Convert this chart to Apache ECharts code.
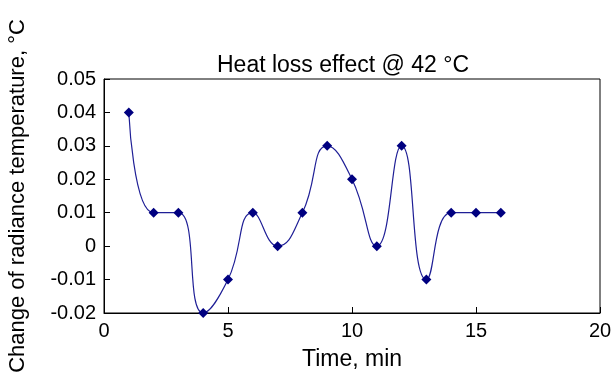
<!DOCTYPE html>
<html>
<head>
<meta charset="utf-8">
<script src="https://cdn.jsdelivr.net/npm/echarts@6/dist/echarts.min.js"></script>
<style>
  html, body { margin: 0; padding: 0; background: #fff; }
  #chart { width: 612px; height: 390px; }
</style>
</head>
<body>
<div id="chart"></div>
<script>
const timeMin = [1, 2, 3, 4, 5, 6, 7, 8, 9, 10, 11, 12, 13, 14, 15, 16]
const tempChange = [0.04, 0.01, 0.01, -0.02, -0.01, 0.01, 0, 0.01, 0.03, 0.02, 0, 0.03, -0.01, 0.01, 0.01, 0.01]

const font = 'Liberation Sans, Arial, sans-serif'
const chart = echarts.init(document.getElementById('chart'))

chart.setOption({
  animation: false,
  title: {
    text: 'Heat loss effect @ 42 °C',
    left: 338,
    textAlign: 'center',
    top: 49,
    textStyle: { fontFamily: font, fontSize: 23, fontWeight: 'normal', color: '#000' },
  },
  grid: {
    left: 104,
    top: 79,
    right: 12,
    bottom: 77,
    outerBoundsMode: 'none',
    containLabel: false,
    show: true,
    borderColor: '#000',
    borderWidth: 1,
  },
  xAxis: {
    type: 'value',
    min: 0,
    max: 20,
    interval: 5,
    name: 'Time, min',
    nameLocation: 'middle',
    nameGap: 35,
    nameTextStyle: { fontFamily: font, fontSize: 23, color: '#000' },
    axisLine: { onZero: false, lineStyle: { color: '#000' } },
    axisTick: { inside: true, length: 6, lineStyle: { color: '#000' } },
    axisLabel: { fontFamily: font, fontSize: 20, color: '#000', margin: 8 },
    splitLine: { show: false },
  },
  yAxis: {
    type: 'value',
    min: -0.02,
    max: 0.05,
    interval: 0.01,
    name: 'Change of radiance temperature, °C',
    nameLocation: 'middle',
    nameGap: 75,
    nameTextStyle: { fontFamily: font, fontSize: 22, color: '#000' },
    axisLine: { show: true, onZero: false, lineStyle: { color: '#000' } },
    axisTick: { show: true, inside: true, length: 6, lineStyle: { color: '#000' } },
    axisLabel: {
      fontFamily: font,
      fontSize: 20,
      color: '#000',
      margin: 8,
      formatter: v => (Math.abs(v) < 1e-9 ? '0' : v.toFixed(2)),
    },
    splitLine: { show: false },
  },
  series: [
    {
      type: 'line',
      data: timeMin.map((t, i) => [t, tempChange[i]]),
      smooth: 0.5,
      symbol: 'diamond',
      symbolSize: 10,
      itemStyle: { color: '#000080' },
      lineStyle: { color: '#1f1f96', width: 1.2 },
    },
  ],
})
</script>
</body>
</html>
